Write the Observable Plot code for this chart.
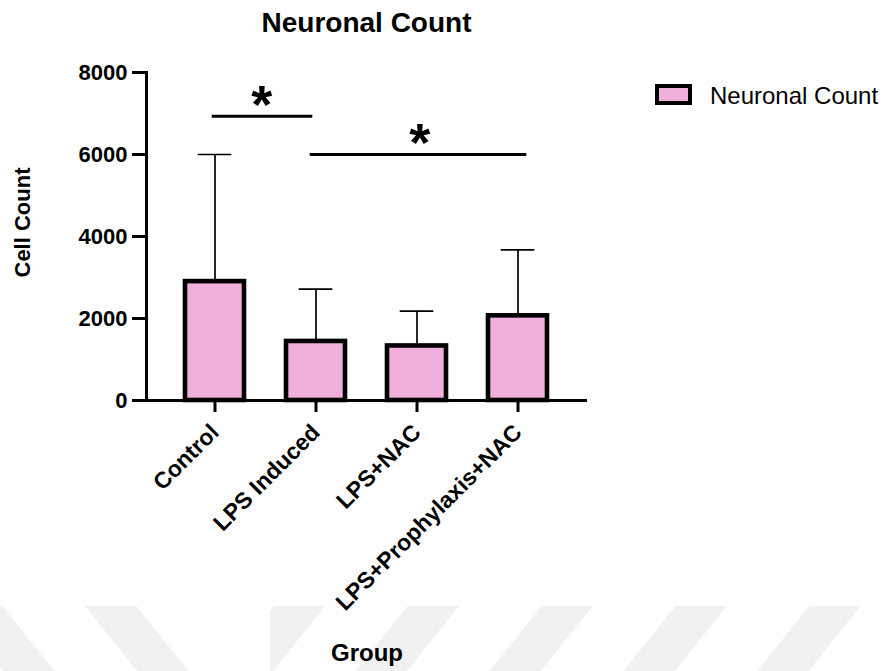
<!DOCTYPE html>
<html>
<head>
<meta charset="utf-8">
<script src="https://cdn.jsdelivr.net/npm/d3@7"></script>
<script src="https://cdn.jsdelivr.net/npm/@observablehq/plot@0.6"></script>
<style>
  html, body { margin: 0; padding: 0; background: white; }
  #wrap { position: relative; width: 887px; height: 671px; overflow: hidden; font-family: "Liberation Sans", Arial, sans-serif; }
  #title { position: relative; z-index: 2; height: 45px; line-height: 45px; width: 441px; padding-left: 146px; text-align: center; font-size: 28px; font-weight: bold; color: black; }
  #chart { position: relative; z-index: 2; }
  .wm { position: absolute; top: 606px; height: 65px; z-index: 1; }
  #wmL { left: 0; width: 215px; background: repeating-linear-gradient(51.3deg, transparent 0px, transparent 2.5px, #f1f1f1 2.5px, #f1f1f1 42.5px, transparent 42.5px, transparent 104.5px); }
  #wmR { left: 270px; width: 617px; background: repeating-linear-gradient(128.7deg, transparent 0px, transparent 3px, #f1f1f1 3px, #f1f1f1 43px, transparent 43px, transparent 104.5px); }
  #legend { position: absolute; z-index: 3; left: 655px; top: 84px; }
  #legend .sw { position: absolute; left: 0; top: 0; width: 37px; height: 21px; box-sizing: border-box; border: 4.5px solid black; }
  #legend .lb { position: absolute; left: 55px; top: -3.3px; line-height: 30px; font-size: 24px; white-space: nowrap; color: black; }
</style>
</head>
<body>
<div id="wrap">
  <div class="wm" id="wmL"></div>
  <div class="wm" id="wmR"></div>
  <div id="title"></div>
  <div id="chart"></div>
  <div id="legend"></div>
</div>
<script>
// ---- data ----
const chartTitle = "Neuronal Count";
const seriesName = "Neuronal Count";
const xLabel = "Group";
const yLabel = "Cell Count";
const groups = ["Control", "LPS Induced", "LPS+NAC", "LPS+Prophylaxis+NAC"];
const means = [2900, 1440, 1330, 2065];
const sds = [3100, 1275, 848, 1610];
const yTicks = [0, 2000, 4000, 6000, 8000];
const yDomain = [0, 8000];
const sigFrom = ["Control", "LPS Induced"];
const sigTo = ["LPS Induced", "LPS+Prophylaxis+NAC"];
const sigY = [6930, 6000];
const sigText = ["*", "*"];
const barColor = "#f1b0dc";

// ---- layout ----
const W = 887, H = 626;
const mL = 146, mR = 300, mT = 27, mB = 271;
const padInner = 0.415, padOuter = 0.377;
const step = (W - mL - mR) / (groups.length - padInner + 2 * padOuter);
// bracket insets relative to the bands they span
const sigInsetL = [26.7, 23.7];
const sigInsetR = [32.7, 20.7];
const sigShift = [-4, 2];

const data = groups.map((g, i) => ({group: g, mean: means[i], upper: means[i] + sds[i]}));

const sigMarks = sigFrom.flatMap((f, i) => {
  const k = groups.indexOf(sigTo[i]) - groups.indexOf(f);
  const d = [{x1: f, x2: sigTo[i], y: sigY[i], t: sigText[i]}];
  return [
    Plot.ruleY(d, {x1: "x1", x2: "x2", y: "y", stroke: "black", strokeWidth: 3,
      insetLeft: sigInsetL[i], insetRight: sigInsetR[i]}),
    Plot.text(d, {x: "x1", y: "y", text: "t", dx: k * step / 2 + sigShift[i], dy: 6.5,
      lineAnchor: "bottom", textAnchor: "middle", fontSize: 54, fontWeight: "bold", fill: "black"})
  ];
});

const plot = Plot.plot({
  width: W, height: H,
  marginLeft: mL, marginRight: mR, marginTop: mT, marginBottom: mB,
  style: {fontFamily: "'Liberation Sans', Arial, sans-serif", background: "transparent", color: "black", overflow: "visible"},
  x: {type: "band", domain: groups, paddingInner: padInner, paddingOuter: padOuter, label: null},
  y: {domain: yDomain, label: null},
  marks: [
    Plot.ruleX(data, {x: "group", y1: "mean", y2: "upper", stroke: "black", strokeWidth: 1.7}),
    Plot.tickY(data, {x: "group", y: "upper", insetLeft: 12.7, insetRight: 12.7, stroke: "black", strokeWidth: 1.7}),
    Plot.barY(data, {x: "group", y: "mean", fill: barColor, stroke: "black", strokeWidth: 4.6}),
    Plot.ruleY([0], {stroke: "black", strokeWidth: 3}),
    Plot.frame({anchor: "left", stroke: "black", strokeWidth: 3}),
    Plot.axisY({ticks: yTicks, tickSize: 14, tickPadding: 5, tickFormat: d3.format("d"),
      fontSize: 22, fontWeight: "bold", stroke: "black", strokeWidth: 3, label: null}),
    Plot.axisX({tickSize: 12, tickRotate: -45, tickPadding: 16, fontSize: 23, fontWeight: "bold",
      stroke: "black", strokeWidth: 3, label: null}),
    ...sigMarks,
    Plot.text([yLabel], {text: d => d, frameAnchor: "left", textAnchor: "middle", lineAnchor: "middle",
      rotate: -90, dx: -124, dy: -14, fontSize: 22, fontWeight: "bold", fill: "black"}),
    Plot.text([xLabel], {text: d => d, frameAnchor: "bottom", textAnchor: "middle", dy: 260, lineAnchor: "bottom",
      fontSize: 24, fontWeight: "bold", fill: "black"})
  ]
});
document.getElementById("chart").appendChild(plot);
document.getElementById("title").textContent = chartTitle;

const legend = document.getElementById("legend");
const sw = document.createElement("div");
sw.className = "sw";
sw.style.background = barColor;
const lb = document.createElement("div");
lb.className = "lb";
lb.textContent = seriesName;
legend.appendChild(sw);
legend.appendChild(lb);
</script>
</body>
</html>
